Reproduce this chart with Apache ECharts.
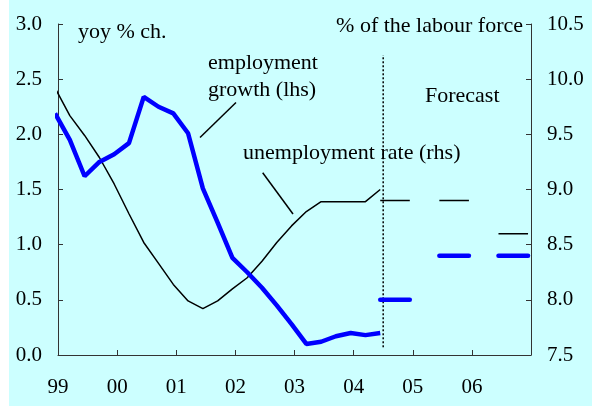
<!DOCTYPE html>
<html>
<head>
<meta charset="utf-8">
<script src="https://cdn.jsdelivr.net/npm/echarts@6/dist/echarts.min.js"></script>
<style>
  html, body { margin: 0; padding: 0; background: #ffffff; }
  #chart { position: absolute; left: 9px; top: 0; width: 583px; height: 406px; background: #ccffff; }
</style>
</head>
<body>
<div id="chart"></div>
<script>
// quarterly observations
const quarters = [
  '1999Q1', '1999Q2', '1999Q3', '1999Q4',
  '2000Q1', '2000Q2', '2000Q3', '2000Q4',
  '2001Q1', '2001Q2', '2001Q3', '2001Q4',
  '2002Q1', '2002Q2', '2002Q3', '2002Q4',
  '2003Q1', '2003Q2', '2003Q3', '2003Q4',
  '2004Q1', '2004Q2', '2004Q3'
]
// employment growth, yoy % ch. (lhs)
const employment = [2.19, 1.95, 1.62, 1.75, 1.82, 1.92, 2.34, 2.25, 2.19, 2.01, 1.51, 1.20,
  0.88, 0.75, 0.61, 0.45, 0.28, 0.10, 0.12, 0.17, 0.20, 0.18, 0.20]
// unemployment rate, % of the labour force (rhs)
const unemployment = [9.92, 9.67, 9.49, 9.29, 9.05, 8.78, 8.52, 8.33, 8.14, 7.99, 7.92, 7.99,
  8.10, 8.20, 8.35, 8.52, 8.67, 8.80, 8.89, 8.89, 8.89, 8.89, 9.00]

// forecast (annual)
const forecastYears = [2005, 2006, 2007]
const employmentForecast = [0.5, 0.9, 0.9]
const unemploymentForecast = [8.9, 8.9, 8.6]

const forecastFrom = 2004.5
const yearLabels = ['99', '00', '01', '02', '03', '04', '05', '06']

const FONT = '"Liberation Serif", "Times New Roman", serif'

// quarter string -> position on the time axis
const toX = (q) => {
  const year = parseInt(q.slice(0, 4))
  const qn = parseInt(q.slice(5))
  return year + (qn - 1) / 4 - 0.05
}

const pairs = (vals) => quarters.map((q, i) => [toX(q), vals[i]])

const forecastSeries = (vals, axis, color, width, cap) => forecastYears.map((y, i) => ({
  type: 'line',
  yAxisIndex: axis,
  symbol: 'none',
  silent: true,
  lineStyle: { color: color, width: width, cap: cap },
  data: [[toX((y - 1) + 'Q3'), vals[i]], [toX(y + 'Q1'), vals[i]]]
}))

const chart = echarts.init(document.getElementById('chart'))

const axisText = { color: '#000', fontFamily: FONT, fontSize: 21 }
const axisLine = { show: true, lineStyle: { color: '#333', width: 1 } }
const axisTick = { show: true, inside: true, length: 5, lineStyle: { color: '#333', width: 1 } }

const annotation = (text, x, y, align) => ({
  type: 'text',
  x: x,
  y: y,
  silent: true,
  style: {
    text: text,
    fill: '#000',
    font: '22px ' + FONT,
    align: align || 'left',
    verticalAlign: 'middle'
  }
})

const leader = (x1, y1, x2, y2) => ({
  type: 'line',
  silent: true,
  shape: { x1: x1, y1: y1, x2: x2, y2: y2 },
  style: { stroke: '#000', lineWidth: 1.5 }
})

chart.setOption({
  animation: false,
  backgroundColor: '#ccffff',
  grid: { left: 49, right: 61, top: 24, bottom: 51 },
  xAxis: {
    type: 'value',
    min: 1999,
    max: 2007,
    interval: 1,
    axisLine: axisLine,
    axisTick: axisTick,
    splitLine: { show: false },
    axisLabel: Object.assign({
      margin: 22,
      formatter: (v) => yearLabels[v - 1999] || ''
    }, axisText)
  },
  yAxis: [
    {
      type: 'value',
      position: 'left',
      min: 0,
      max: 3,
      interval: 0.5,
      axisLine: axisLine,
      axisTick: axisTick,
      splitLine: { show: false },
      axisLabel: Object.assign({ margin: 16, formatter: (v) => v.toFixed(1) }, axisText)
    },
    {
      type: 'value',
      position: 'right',
      min: 7.5,
      max: 10.5,
      interval: 0.5,
      axisLine: axisLine,
      axisTick: axisTick,
      splitLine: { show: false },
      axisLabel: Object.assign({ margin: 16, formatter: (v) => v.toFixed(1) }, axisText)
    }
  ],
  series: [
    {
      name: 'unemployment rate (rhs)',
      type: 'line',
      yAxisIndex: 1,
      symbol: 'none',
      lineStyle: { color: '#000', width: 1.5 },
      data: pairs(unemployment)
    },
    {
      name: 'employment growth (lhs)',
      type: 'line',
      yAxisIndex: 0,
      symbol: 'none',
      lineStyle: { color: '#0000ff', width: 4.5 },
      data: pairs(employment)
    },
    {
      type: 'line',
      yAxisIndex: 1,
      symbol: 'none',
      silent: true,
      lineStyle: { color: '#000', width: 1.5, type: [2, 2] },
      data: [[forecastFrom, 7.57], [forecastFrom, 10.22]]
    }
  ]
    .concat(forecastSeries(unemploymentForecast, 1, '#000', 1.5, 'butt'))
    .concat(forecastSeries(employmentForecast, 0, '#0000ff', 4.5, 'round')),
  graphic: [
    annotation('yoy % ch.', 69, 32),
    annotation('% of the labour force', 514, 26, 'right'),
    annotation('employment', 199, 63),
    annotation('growth (lhs)', 199, 90),
    annotation('Forecast', 416, 96),
    annotation('unemployment rate (rhs)', 234, 153),
    leader(191, 137.5, 227, 102.5),
    leader(253.7, 172.7, 284, 214)
  ]
})
</script>
</body>
</html>
